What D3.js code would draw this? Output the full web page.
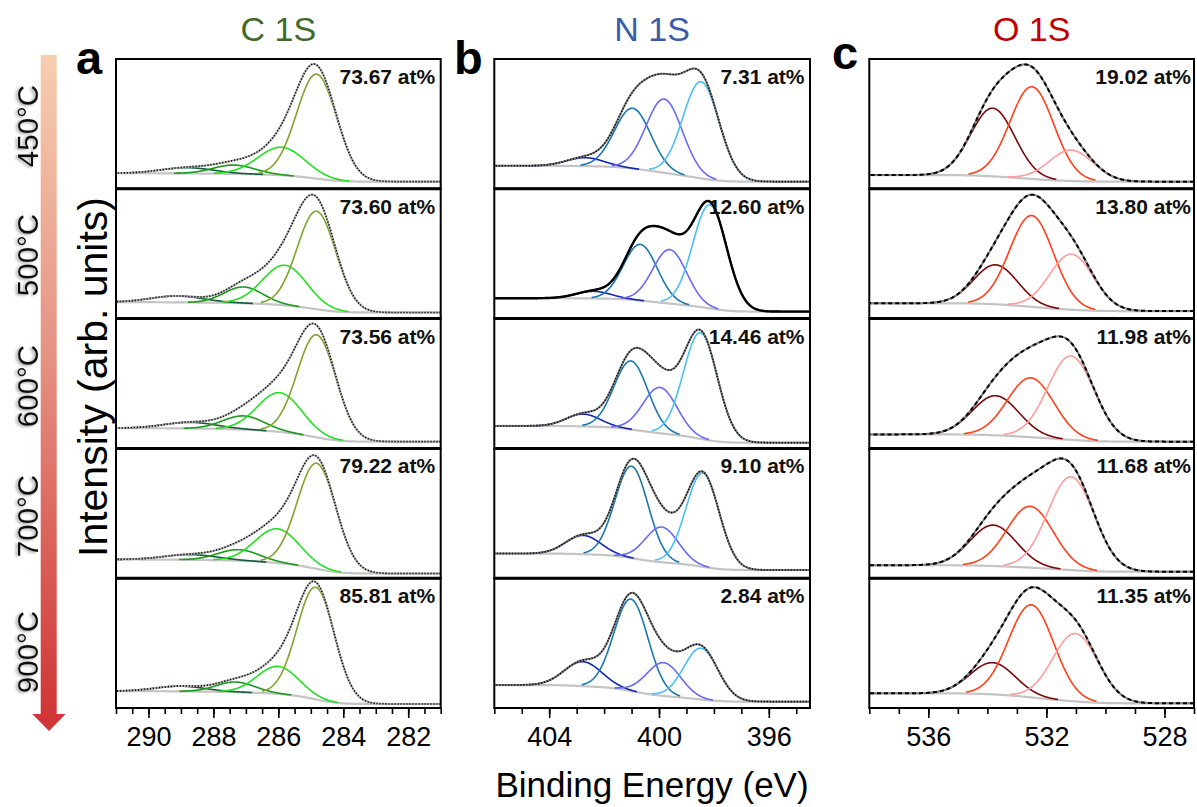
<!DOCTYPE html>
<html><head><meta charset="utf-8">
<script src="https://cdn.jsdelivr.net/npm/d3@7"></script>
<style>body{margin:0;background:#fff} svg{display:block} text{font-family:"Liberation Sans",Arial,sans-serif}</style>
</head><body><svg id="chart" width="1197" height="807"></svg>
<script>
// ---------- data ----------
const temps = ["450°C", "500°C", "600°C", "700°C", "900°C"];
const titles = ["C 1S", "N 1S", "O 1S"];
const letters = ["a", "b", "c"];
const cAt = ["73.67 at%", "73.60 at%", "73.56 at%", "79.22 at%", "85.81 at%"];
const nAt = ["7.31 at%", "12.60 at%", "14.46 at%", "9.10 at%", "2.84 at%"];
const oAt = ["19.02 at%", "13.80 at%", "11.98 at%", "11.68 at%", "11.35 at%"];
const cTicks = [290, 288, 286, 284, 282];
const nTicks = [404, 400, 396];
const oTicks = [536, 532, 528];

// peak components per row: [centre eV, height above background, FWHM eV]
const cMain    = [[284.82,0.805,1.45],[284.82,0.755,1.40],[284.82,0.790,1.40],[284.82,0.813,1.40],[284.85,0.864,1.35]];
const cBright  = [[285.90,0.216,1.70],[285.80,0.309,1.60],[285.96,0.302,1.60],[286.03,0.263,1.60],[286.01,0.212,1.50]];
const cDark    = [[287.37,0.068,1.50],[287.07,0.125,1.40],[287.07,0.105,1.50],[287.22,0.085,1.50],[287.32,0.078,1.40]];
const cDarkest = [[288.80,0.044,1.90],[289.12,0.049,1.90],[288.71,0.047,1.90],[288.70,0.040,1.90],[289.02,0.040,1.80]];
const cBgHigh = [0.120, 0.127, 0.156, 0.144, 0.130];
const cBgLow  = [0.055, 0.047, 0.052, 0.036, 0.031];

const nPyridinic = [[398.47,0.744,1.55],[398.15,0.798,1.45],[398.49,0.818,1.45],[398.41,0.721,1.42],[398.47,0.395,1.46]];
const nPyrrolic  = [[399.81,0.568,1.55],[399.61,0.416,1.45],[399.96,0.353,1.45],[399.90,0.271,1.42],[399.83,0.256,1.46]];
const nGraphitic = [[400.96,0.465,1.55],[400.68,0.432,1.45],[401.02,0.527,1.45],[401.00,0.708,1.42],[401.02,0.708,1.46]];
const nOxidized  = [[402.69,0.065,1.60],[402.39,0.055,1.50],[402.76,0.095,1.45],[402.76,0.145,1.50],[402.77,0.188,1.60]];
const nBgHigh = [0.177, 0.157, 0.173, 0.190, 0.177];
const nBgLow  = [0.055, 0.054, 0.044, 0.063, 0.049];

const oDark  = [[533.82,0.525,1.75],[533.72,0.304,1.75],[533.72,0.305,1.85],[533.80,0.315,1.85],[533.82,0.244,1.80]];
const oMid   = [[532.49,0.710,1.75],[532.50,0.703,1.75],[532.53,0.457,1.85],[532.55,0.472,1.85],[532.51,0.713,1.80]];
const oLight = [[531.16,0.238,1.75],[531.15,0.428,1.75],[531.17,0.646,1.85],[531.17,0.718,1.85],[531.02,0.523,1.80]];
const oBgHigh = [0.106, 0.118, 0.108, 0.100, 0.113];
const oBgLow  = [0.055, 0.058, 0.052, 0.050, 0.036];

// ---------- layout ----------
const svg = d3.select("#chart");
const top0 = 59, rowH = 129.8, nRows = 5;
const bottom = top0 + rowH * nRows;

const cols = [
  { x0: 116, x1: 440.7, dom: [291, 281], major: cTicks, minorStep: 0.5, at: cAt,
    comps: [[cDarkest, "#145c3c"], [cDark, "#1d9a1d"], [cBright, "#22e022"], [cMain, "#7ea52c"]],
    bgH: cBgHigh, bgL: cBgLow, title: "#3f6a2a", letterX: 76, letterY: 74, rawColor: "#b4b4b4",
    env: () => ({ dash: "1.3,1.7", w: 1.6, color: "#111" }) },
  { x0: 494.3, x1: 810, dom: [406, 394.5], major: nTicks, minorStep: 1, at: nAt,
    comps: [[nOxidized, "#1428b0"], [nGraphitic, "#1a78ae"], [nPyrrolic, "#6a6af2"], [nPyridinic, "#48bff5"]],
    bgH: nBgHigh, bgL: nBgLow, title: "#3a5ca8", letterX: 454, letterY: 74, rawColor: "#7a7a7a",
    env: r => r === 1 ? { dash: null, w: 2.4, color: "#000" } : { dash: "1.3,1.7", w: 1.6, color: "#111" } },
  { x0: 869.3, x1: 1194, dom: [538, 527], major: oTicks, minorStep: 1, at: oAt,
    comps: [[oDark, "#7a0808"], [oMid, "#ff4018"], [oLight, "#ff9c9c"]],
    bgH: oBgHigh, bgL: oBgLow, title: "#c00000", letterX: 832, letterY: 69, rawColor: "#808080",
    env: () => ({ dash: "4,3", w: 2, color: "#000" }) }
];

const gauss = (E, p) => p[1] * Math.exp(-4 * Math.LN2 * (E - p[0]) * (E - p[0]) / (p[2] * p[2]));

// ---------- defs ----------
const defs = svg.append("defs");
const grad = defs.append("linearGradient").attr("id", "arrowGrad").attr("x1", 0).attr("y1", 0).attr("x2", 0).attr("y2", 1);
grad.append("stop").attr("offset", "0%").attr("stop-color", "#f7cdb0");
grad.append("stop").attr("offset", "45%").attr("stop-color", "#e59384");
grad.append("stop").attr("offset", "100%").attr("stop-color", "#d03636");
const flt = defs.append("filter").attr("id", "shadow").attr("x", "-20%").attr("y", "-20%").attr("width", "140%").attr("height", "140%");
flt.append("feDropShadow").attr("dx", -2).attr("dy", 1).attr("stdDeviation", 1.4).attr("flood-color", "#777").attr("flood-opacity", 0.7);

// ---------- left arrow + temperatures ----------
svg.append("rect").attr("x", 40.7).attr("y", 55).attr("width", 16).attr("height", 659).attr("fill", "url(#arrowGrad)");
svg.append("path").attr("d", "M32.3,714 L65.7,714 L49,731 Z").attr("fill", "#d03636");
const tempY = [126, 255, 386, 516, 652];
const tg = svg.append("g").attr("filter", "url(#shadow)");
temps.forEach((t, i) => {
  tg.append("text").attr("transform", `translate(37.5,${tempY[i]}) rotate(-90)`)
    .attr("text-anchor", "middle").attr("font-size", 29.5).attr("fill", "#111").text(t);
});

// axis titles
svg.append("text").attr("transform", "translate(107,377) rotate(-90)").attr("text-anchor", "middle")
  .attr("font-size", 41).attr("fill", "#000").text("Intensity (arb. units)");
svg.append("text").attr("x", 652).attr("y", 797).attr("text-anchor", "middle")
  .attr("font-size", 35).attr("fill", "#000").text("Binding Energy (eV)");

// ---------- panels ----------
cols.forEach((col, ci) => {
  const xs = d3.scaleLinear().domain(col.dom).range([col.x0, col.x1]);
  const cx = (col.x0 + col.x1) / 2;
  svg.append("text").attr("x", cx).attr("y", 40.7).attr("text-anchor", "middle")
    .attr("font-size", 34).attr("fill", col.title).text(titles[ci]);
  svg.append("text").attr("x", col.letterX).attr("y", col.letterY).attr("font-size", 47)
    .attr("font-weight", "bold").attr("fill", "#000").text(letters[ci]);

  const clipId = "clip" + ci;
  defs.append("clipPath").attr("id", clipId).append("rect")
    .attr("x", col.x0).attr("y", top0).attr("width", col.x1 - col.x0).attr("height", bottom - top0);

  for (let r = 0; r < nRows; r++) {
    const T = top0 + r * rowH, B = T + rowH;
    const ys = d3.scaleLinear().domain([0, 1]).range([B, T]);
    const peaks = col.comps.map(c => c[0][r]);
    const lo = Math.min(...col.dom), hi = Math.max(...col.dom);
    const N = 700, dE = (hi - lo) / N;
    const Es = d3.range(N + 1).map(i => lo + i * dE);
    const S = Es.map(E => d3.sum(peaks, p => gauss(E, p)));
    const cum = [0];
    for (let i = 1; i <= N; i++) cum.push(cum[i - 1] + (S[i] + S[i - 1]) / 2 * dE);
    const bgL = col.bgL[r], bgH = col.bgH[r];
    const bg = cum.map(a => bgL + (bgH - bgL) * a / cum[N]);
    const line = d3.line().x(d => xs(d[0])).y(d => ys(d[1]));
    const g = svg.append("g").attr("clip-path", `url(#${clipId})`);

    // background
    g.append("path").attr("d", line(Es.map((E, i) => [E, bg[i]])))
      .attr("fill", "none").attr("stroke", "#c4c4c4").attr("stroke-width", 2.2);
    // components
    col.comps.forEach(([arr, color]) => {
      const p = arr[r];
      const sig = p[2] / 2.3548;
      const pts = [];
      Es.forEach((E, i) => { if (Math.abs(E - p[0]) <= 2.9 * sig) pts.push([E, bg[i] + gauss(E, p)]); });
      g.append("path").attr("d", line(pts)).attr("fill", "none").attr("stroke", color).attr("stroke-width", 1.6);
    });
    // raw (grey) + envelope
    const env = Es.map((E, i) => [E, bg[i] + S[i]]);
    g.append("path").attr("d", line(env)).attr("fill", "none").attr("stroke", col.rawColor).attr("stroke-width", 2);
    const st = col.env(r);
    const ep = g.append("path").attr("d", line(env)).attr("fill", "none").attr("stroke", st.color).attr("stroke-width", st.w);
    if (st.dash) ep.attr("stroke-dasharray", st.dash);

    // at% label
    svg.append("text").attr("x", col.x1 - (ci === 2 ? 3 : 5.5)).attr("y", T + 25).attr("text-anchor", "end")
      .attr("font-size", 21).attr("font-weight", "bold").attr("fill", "#111").text(col.at[r]);

    // frame
    svg.append("rect").attr("x", col.x0).attr("y", T).attr("width", col.x1 - col.x0).attr("height", rowH)
      .attr("fill", "none").attr("stroke", "#000").attr("stroke-width", 2);
    if (r > 0) svg.append("line").attr("x1", col.x0).attr("x2", col.x1).attr("y1", T).attr("y2", T)
      .attr("stroke", "#000").attr("stroke-width", 3);
  }

  // x axis
  const lo = Math.min(...col.dom), hi = Math.max(...col.dom);
  const minorVals = d3.range(Math.ceil(lo / col.minorStep) * col.minorStep, hi + 1e-6, col.minorStep);
  const minorAxis = d3.axisBottom(xs).tickValues(minorVals).tickSize(6).tickFormat("");
  const majorAxis = d3.axisBottom(xs).tickValues(col.major).tickSize(10).tickPadding(9).tickFormat(d3.format("d"));
  const ga = svg.append("g").attr("transform", `translate(0,${bottom})`).call(minorAxis);
  const gb = svg.append("g").attr("transform", `translate(0,${bottom})`).call(majorAxis);
  [ga, gb].forEach(a => {
    a.select(".domain").remove();
    a.selectAll("line").attr("stroke", "#000").attr("stroke-width", 1.6);
  });
  gb.selectAll("text").attr("font-size", 27).attr("fill", "#000").attr("font-family", "Liberation Sans, Arial, sans-serif");
});
</script></body></html>
